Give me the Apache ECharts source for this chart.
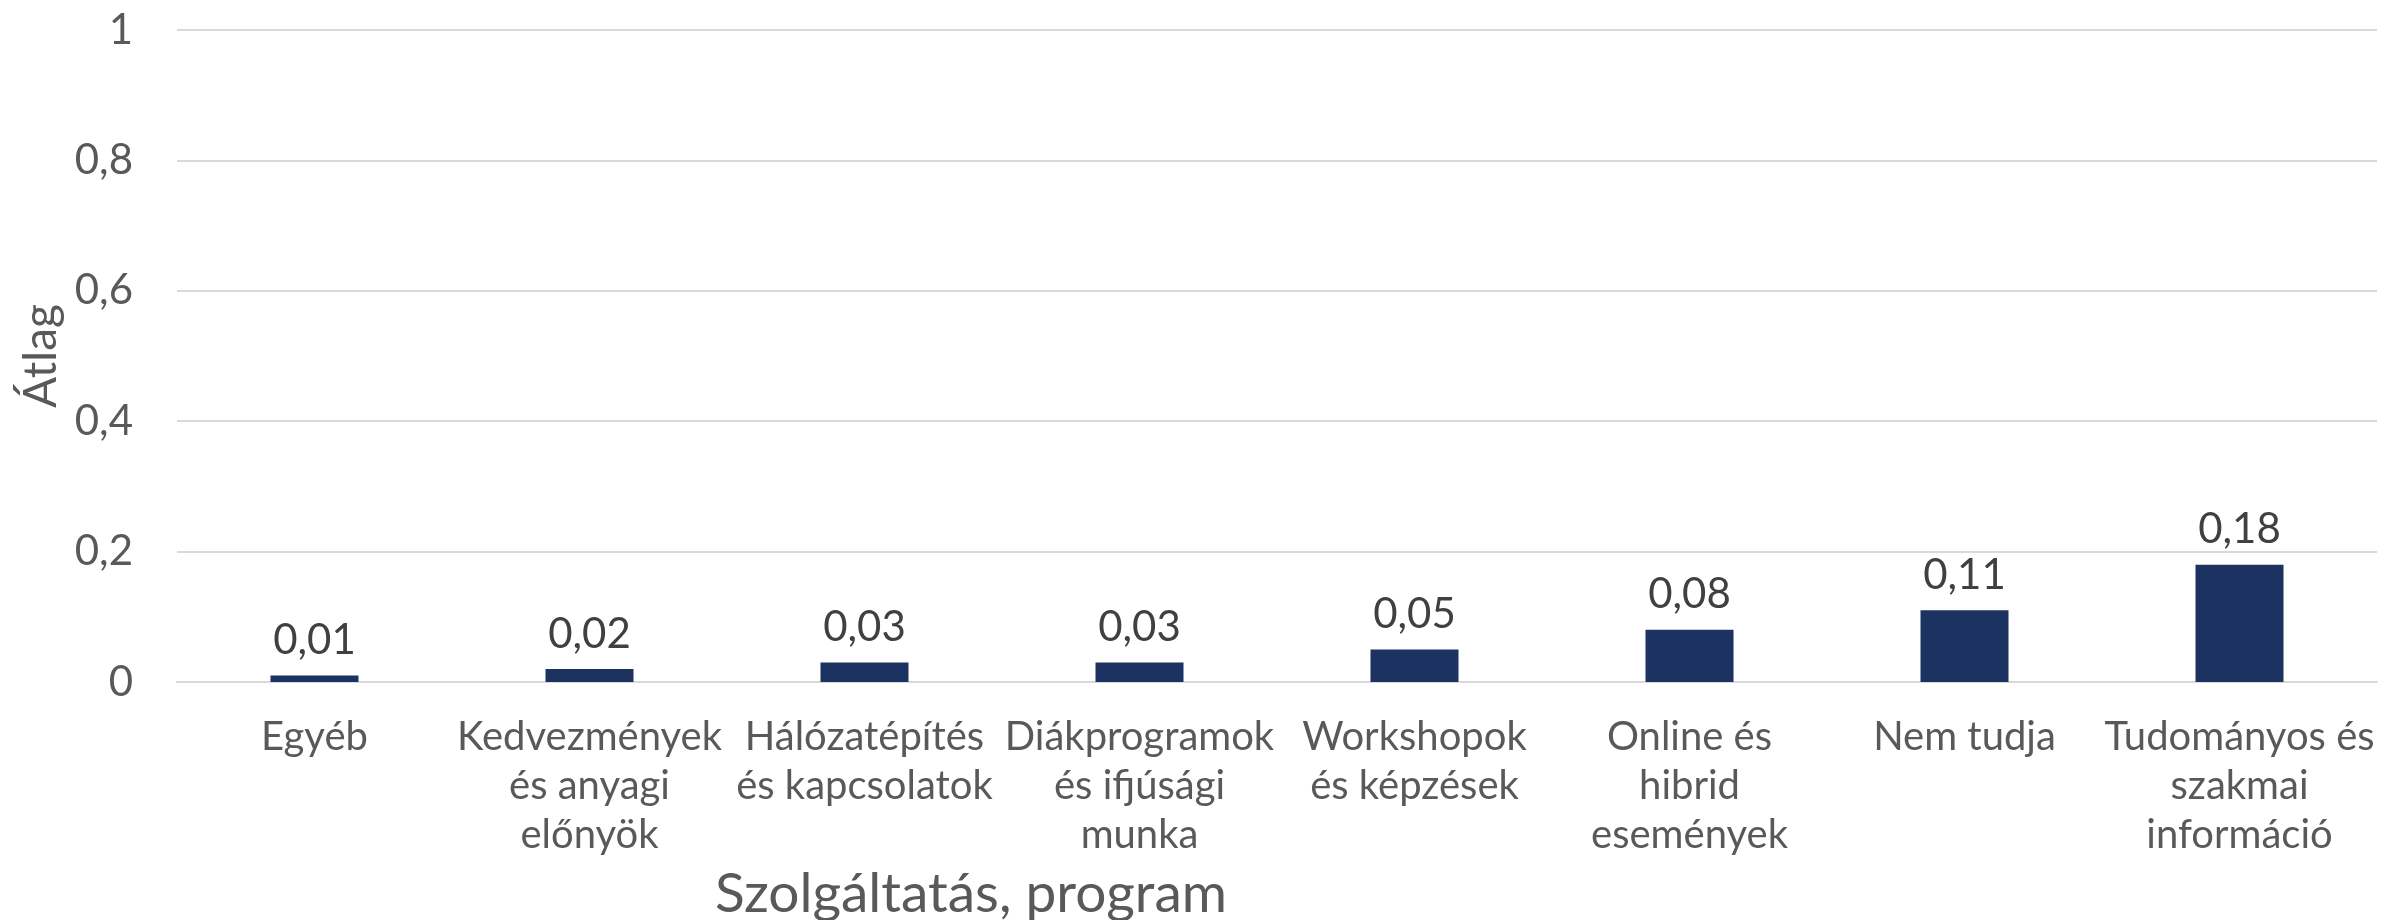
<!DOCTYPE html>
<html>
<head>
<meta charset="utf-8">
<script src="https://cdn.jsdelivr.net/npm/echarts@6/dist/echarts.min.js"></script>
<style>
  html, body { margin: 0; padding: 0; background: #fff; }
  #chart { width: 2382px; height: 920px; }
</style>
</head>
<body>
<div id="chart"></div>
<script>
// kategóriák (sortörések az eredeti tördelés szerint)
var categories = [
    'Egyéb',
    'Kedvezmények\nés anyagi\nelőnyök',
    'Hálózatépítés\nés kapcsolatok',
    'Diákprogramok\nés ifjúsági\nmunka',
    'Workshopok\nés képzések',
    'Online és\nhibrid\nesemények',
    'Nem tudja',
    'Tudományos és\nszakmai\ninformáció'
];
var values = [0.01, 0.02, 0.03, 0.03, 0.05, 0.08, 0.11, 0.18];
var yTicks = [0, 0.2, 0.4, 0.6, 0.8, 1];
var yName = 'Átlag';
var xName = 'Szolgáltatás, program';

var font = 'Lato';
var grey = '#595959';

function comma(v, digits) {
    var s = digits == null ? String(v) : v.toFixed(digits);
    return s.replace('.', ',');
}

var myChart = echarts.init(document.getElementById('chart'));

var option = {
    backgroundColor: '#fff',
    animation: false,
    grid: { left: 177, right: 5, top: 30, bottom: 238, containLabel: false, outerBoundsMode: 'none' },
    xAxis: {
        type: 'category',
        data: categories,
        axisLine: { show: true, lineStyle: { color: '#d9d9d9', width: 2 } },
        axisTick: { show: false },
        axisLabel: {
            interval: 0,
            margin: 31,
            fontFamily: font,
            fontSize: 40,
            lineHeight: 49,
            color: grey,
            align: 'center'
        }
    },
    yAxis: {
        type: 'value',
        min: yTicks[0],
        max: yTicks[yTicks.length - 1],
        interval: 0.2,
        name: yName,
        nameLocation: 'middle',
        nameGap: 110,
        nameRotate: 90,
        nameTextStyle: { fontFamily: font, fontSize: 46, color: grey },
        axisLine: { show: false },
        axisTick: { show: false },
        splitLine: { lineStyle: { color: '#d9d9d9', width: 2 } },
        axisLabel: {
            margin: 44,
            fontFamily: font,
            fontSize: 42,
            color: grey,
            formatter: function (v) { return comma(Math.round(v * 10) / 10); }
        }
    },
    graphic: [{
        type: 'text',
        x: 971,
        y: 894,
        style: {
            text: xName,
            fontFamily: font,
            fontSize: 55,
            fill: grey,
            align: 'center',
            verticalAlign: 'middle'
        }
    }],
    series: [{
        type: 'bar',
        data: values,
        barWidth: '32%',
        itemStyle: { color: '#1c3260' },
        label: {
            show: true,
            position: 'top',
            distance: 14,
            fontFamily: font,
            fontSize: 42,
            color: '#404040',
            formatter: function (p) { return comma(p.value, 2); }
        }
    }]
};

myChart.setOption(option, true);
</script>
</body>
</html>
